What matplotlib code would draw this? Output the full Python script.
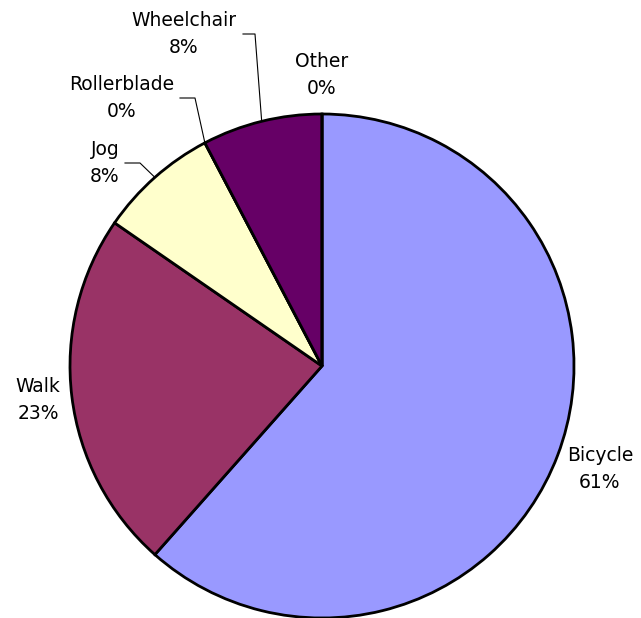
import numpy as np
import matplotlib
matplotlib.use('Agg')
import matplotlib.pyplot as plt

plt.rcParams['font.family'] = ['DejaVu Sans']

# --- data ---
modes = ['Bicycle', 'Walk', 'Jog', 'Rollerblade', 'Wheelchair', 'Other']
counts = [8, 3, 1, 0, 1, 0]
pct_labels = ['61%', '23%', '8%', '0%', '8%', '0%']
colors = ['#9999FF', '#993366', '#FFFFCC', '#CCFFFF', '#660066', '#FF8080']

# label placement (pixel coords, y from top) and leader line start
W, H = 641, 618
CX, CY, R = 322, 366, 252
label_pos = {
    'Bicycle': (600, 469),
    'Walk': (38, 400),
    'Jog': (105, 163),
    'Rollerblade': (122, 98),
    'Wheelchair': (184, 34),
    'Other': (322, 75),
}
leader_x = {'Jog': (125, 140), 'Rollerblade': (180, 195), 'Wheelchair': (243, 255)}

fig = plt.figure(figsize=(W / 100, H / 100), dpi=100)
ax = fig.add_axes([0, 0, 1, 1])

wedges, _ = ax.pie(counts, colors=colors, startangle=90, counterclock=False,
                   center=(CX, H - CY), radius=R,
                   wedgeprops=dict(edgecolor='black', linewidth=2))
ax.set_xlim(0, W)
ax.set_ylim(0, H)
ax.set_aspect('equal')
ax.axis('off')

for name, pl, w in zip(modes, pct_labels, wedges):
    lx, ly = label_pos[name]
    ax.text(lx, H - ly, f'{name}\n{pl}', ha='center', va='center',
            fontsize=13.5, linespacing=1.55, color='black')
    if name in leader_x:
        # leader goes to the middle of the slice edge
        ang = np.deg2rad((w.theta1 + w.theta2) / 2)
        px = CX + R * np.cos(ang)
        py = (H - CY) + R * np.sin(ang)
        x0, x1 = leader_x[name]
        ax.plot([x0, x1, px], [H - ly, H - ly, py], color='black', lw=0.8)

fig.savefig('out.png', dpi=100)
